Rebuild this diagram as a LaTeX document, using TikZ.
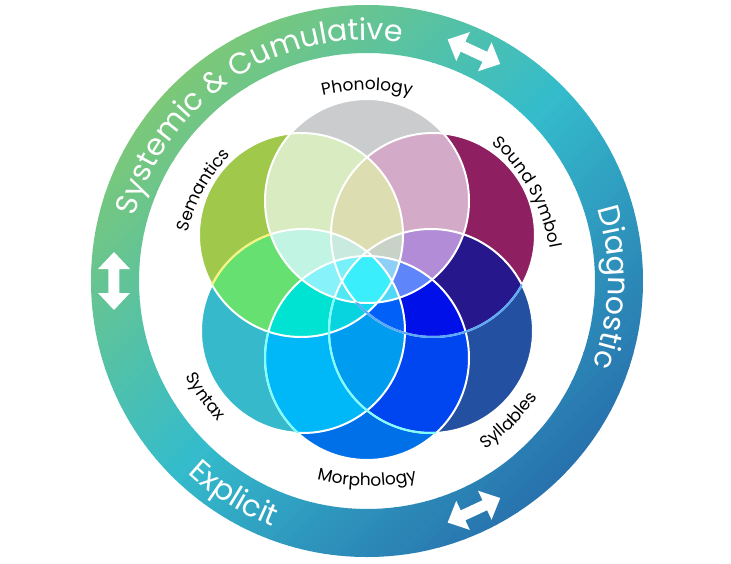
\documentclass[tikz,border=0pt]{standalone}
\usepackage{fontspec}
\setmainfont{Poppins}
\usetikzlibrary{decorations.text}
%
\definecolor{ringgreen}{HTML}{7CC878}
\definecolor{ringteal}{HTML}{34BCCC}
\definecolor{ringblue}{HTML}{2872AE}
\definecolor{phonC}{HTML}{CBCCCE}
\definecolor{semC}{HTML}{A0C84A}
\definecolor{soundC}{HTML}{8E2062}
\definecolor{syntaxC}{HTML}{36BACB}
\definecolor{syllC}{HTML}{2350A0}
\definecolor{morphC}{HTML}{0070E8}
%
\newcommand\ringfont{\fontsize{30}{36}\selectfont}
\newcommand\petalfont{\fontsize{17}{20}\selectfont}
\def\rr{102}
\makeatletter
% fill the common part of the listed discs
\newcommand\paintset[2]{%
  \begin{scope}
    \@for\nm:=#2\do{\clip (\nm) circle[radius=\rr];}
    \fill[fill=#1] (0,0) circle[radius=200];
  \end{scope}}
\makeatother
\tikzset{
  petal/.style={draw=white,line width=2pt},
  ringlabel/.style={decorate,decoration={text along path,text align=center,
    text color=white,text={|\ringfont|#1}}},
  petallabel/.style={decorate,decoration={text along path,text align=center,
    text color=black,text={|\petalfont|#1}}},
  twoway/.style={fill=white}
}
\begin{document}
\begin{tikzpicture}[x=1pt,y=1pt]
\useasboundingbox (-367,-282) rectangle (364,281);
%
\begin{scope}[even odd rule]
\clip (0,0) circle[radius=276] (0,0) circle[radius=228];
\begin{scope}[rotate=45]
\foreach \i in {0,...,91}{
  \pgfmathsetmacro\t{\i/91*200}
  \ifdim\t pt<100pt
    \colorlet{band}{ringteal!\t!ringblue}
  \else
    \pgfmathsetmacro\u{\t-100}
    \colorlet{band}{ringgreen!\u!ringteal}
  \fi
  \fill[band] (-280,-276+6*\i) rectangle (280,-269.5+6*\i);
}
\end{scope}
\end{scope}
%
\coordinate (phon) at (0,80);
\coordinate (sem) at (-66,46);
\coordinate (sound) at (66,46);
\coordinate (syntax) at (-64,-50);
\coordinate (syll) at (64,-50);
\coordinate (morph) at (0,-77);
%
\paintset{phonC}{phon}
\paintset{semC}{sem}
\paintset{soundC}{sound}
\paintset{syntaxC}{syntax}
\paintset{syllC}{syll}
\paintset{morphC}{morph}
%
\paintset{{rgb,255:red,217;green,235;blue,192}}{phon,sem}
\paintset{{rgb,255:red,211;green,170;blue,200}}{phon,sound}
\paintset{{rgb,255:red,102;green,224;blue,112}}{sem,syntax}
\paintset{{rgb,255:red,38;green,24;blue,140}}{sound,syll}
\paintset{{rgb,255:red,0;green,184;blue,248}}{syntax,morph}
\paintset{{rgb,255:red,0;green,70;blue,240}}{syll,morph}
\paintset{{rgb,255:red,0;green,156;blue,240}}{syntax,syll}
%
\paintset{{rgb,255:red,220;green,221;blue,176}}{phon,sem,sound}
\paintset{{rgb,255:red,194;green,244;blue,228}}{phon,sem,syntax}
\paintset{{rgb,255:red,178;green,140;blue,214}}{phon,sound,syll}
\paintset{{rgb,255:red,0;green,226;blue,210}}{sem,syntax,morph}
\paintset{{rgb,255:red,0;green,16;blue,232}}{sound,syll,morph}
\paintset{{rgb,255:red,0;green,156;blue,240}}{syntax,syll,morph}
%
\paintset{{rgb,255:red,200;green,234;blue,223}}{phon,sem,sound,syntax}
\paintset{{rgb,255:red,200;green,210;blue,198}}{phon,sem,sound,syll}
\paintset{{rgb,255:red,136;green,242;blue,250}}{phon,sem,syntax,morph}
\paintset{{rgb,255:red,95;green,133;blue,250}}{phon,sound,syll,morph}
\paintset{{rgb,255:red,8;green,212;blue,224}}{sem,syntax,syll,morph}
\paintset{{rgb,255:red,0;green,96;blue,248}}{sound,syntax,syll,morph}
%
\paintset{{rgb,255:red,198;green,216;blue,204}}{phon,sem,sound,syntax,syll}
\paintset{{rgb,255:red,120;green,240;blue,250}}{phon,sem,sound,syntax,morph}
\paintset{{rgb,255:red,142;green,207;blue,248}}{phon,sem,sound,syll,morph}
\paintset{{rgb,255:red,80;green,232;blue,244}}{phon,sem,syntax,syll,morph}
\paintset{{rgb,255:red,80;green,216;blue,248}}{phon,sound,syntax,syll,morph}
\paintset{{rgb,255:red,20;green,216;blue,240}}{sem,sound,syntax,syll,morph}
\paintset{{rgb,255:red,58;green,238;blue,251}}{phon,sem,sound,syntax,syll,morph}
%
\foreach \p in {phon,sem,sound,syntax,syll,morph}
  \draw[petal] (\p) circle[radius=\rr];
%
\begin{scope}[even odd rule]
\clip (sem) circle[radius=\rr];
\clip (phon) circle[radius=\rr] (-300,-300) rectangle (300,300);
\draw[petal,draw={rgb,255:red,244;green,244;blue,120}] (syntax) circle[radius=\rr];
\end{scope}
\begin{scope}[even odd rule]
\clip (syntax) circle[radius=\rr];
\clip (sem) circle[radius=\rr] (-300,-300) rectangle (300,300);
\draw[petal,draw={rgb,255:red,128;green,255;blue,255}] (morph) circle[radius=\rr];
\end{scope}
\begin{scope}[even odd rule]
\clip (morph) circle[radius=\rr];
\clip (phon) circle[radius=\rr] (-300,-300) rectangle (300,300);
\draw[petal,draw={rgb,255:red,128;green,255;blue,255}] (syll) circle[radius=\rr];
\end{scope}
\begin{scope}[even odd rule]
\clip (syll) circle[radius=\rr];
\clip (phon) circle[radius=\rr] (-300,-300) rectangle (300,300);
\draw[petal,draw={rgb,255:red,90;green,168;blue,248}] (sound) circle[radius=\rr];
\end{scope}
%
\path[petallabel=Phonology] (150:191) arc[start angle=150,end angle=30,radius=191];
\path[petallabel={Sound Symbol}] (89:186) arc[start angle=89,end angle=-31,radius=186];
\path[petallabel=Semantics] (211:186) arc[start angle=211,end angle=91,radius=186];
\path[petallabel=Syntax] (155.5:205) arc[start angle=155.5,end angle=275.5,radius=205];
\path[petallabel=Morphology] (210:205) arc[start angle=210,end angle=330,radius=205];
\path[petallabel=Syllables] (255.4:206) arc[start angle=255.4,end angle=375.4,radius=206];
%
\path[ringlabel={Systemic {\&} Cumulative}] (208:241) arc[start angle=208,end angle=38,radius=241];
\path[ringlabel=Diagnostic] (88.5:241) arc[start angle=88.5,end angle=-91.5,radius=241];
\path[ringlabel=Explicit] (178:263) arc[start angle=178,end angle=298,radius=263];
%
\foreach \a in {65,180,-65}
  \fill[twoway,shift={(\a:253)},rotate=\a] (0,29)--(16,12)--(5.5,12)--(5.5,-12)--(16,-12)
    --(0,-29)--(-16,-12)--(-5.5,-12)--(-5.5,12)--(-16,12)--cycle;
\end{tikzpicture}
\end{document}
